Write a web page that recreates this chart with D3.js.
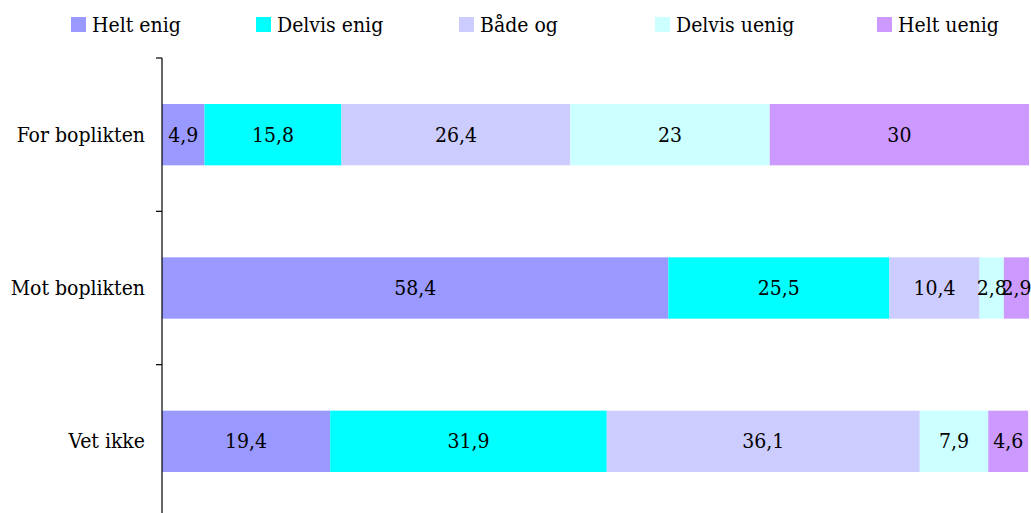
<!DOCTYPE html>
<html>
<head>
<meta charset="utf-8">
<script src="https://cdn.jsdelivr.net/npm/d3@7"></script>
<style>
  html, body { margin: 0; padding: 0; background: #fff; }
</style>
</head>
<body>
<svg id="chart" width="1031" height="513"></svg>
<script>
// Categories (top to bottom) and response series
const categories = ["For boplikten", "Mot boplikten", "Vet ikke"];
const seriesNames = ["Helt enig", "Delvis enig", "Både og", "Delvis uenig", "Helt uenig"];
const seriesColors = ["#9999FF", "#00FFFF", "#CCCCFF", "#CCFFFF", "#CC99FF"];

// Percentages per series, one value per category
const heltEnig    = [4.9, 58.4, 19.4];
const delvisEnig  = [15.8, 25.5, 31.9];
const badeOg      = [26.4, 10.4, 36.1];
const delvisUenig = [23, 2.8, 7.9];
const heltUenig   = [30, 2.9, 4.6];

const seriesValues = [heltEnig, delvisEnig, badeOg, delvisUenig, heltUenig];

const width = 1031, height = 513;
const margin = { left: 162, right: 2, top: 58, bottom: -5 };
const fontSize = 21;
const fontFamily = "'DejaVu Serif Condensed', 'DejaVu Serif', serif";

const svg = d3.select("#chart")
  .attr("font-family", fontFamily);

const x = d3.scaleLinear()
  .domain([0, 100])
  .range([margin.left, width - margin.right]);

const y = d3.scaleBand()
  .domain(categories)
  .range([margin.top, height - margin.bottom])
  .paddingInner(0.6)
  .paddingOuter(0.3);

// Build stacked rows
const rows = categories.map((c, i) => {
  const r = { category: c };
  seriesNames.forEach((s, k) => { r[s] = seriesValues[k][i]; });
  return r;
});
const stacked = d3.stack().keys(seriesNames)(rows);

const fmt = v => String(v).replace(".", ",");
const clampX = v => x(Math.min(v, 100));

const layers = svg.append("g")
  .selectAll("g")
  .data(stacked)
  .join("g")
  .attr("fill", (d, i) => seriesColors[i]);

layers.selectAll("rect")
  .data(d => d)
  .join("rect")
  .attr("x", d => clampX(d[0]))
  .attr("y", d => y(d.data.category))
  .attr("width", d => Math.max(0, clampX(d[1]) - clampX(d[0])))
  .attr("height", y.bandwidth());

// Value labels centred in each segment
stacked.forEach((layer) => {
  svg.append("g")
    .selectAll("text")
    .data(layer)
    .join("text")
    .attr("x", d => (clampX(d[0]) + clampX(d[1])) / 2)
    .attr("y", d => y(d.data.category) + y.bandwidth() / 2 + 7)
    .attr("text-anchor", "middle")
    .attr("font-family", fontFamily)
    .attr("font-size", fontSize)
    .attr("fill", "#000")
    .text(d => fmt(+(d[1] - d[0]).toFixed(1)));
});

// Category axis with band boundary ticks
const bandEdges = categories.map(c => y(c) - y.step() * y.paddingInner() / 2);
bandEdges.push(y(categories[categories.length - 1]) + y.bandwidth() + y.step() * y.paddingInner() / 2);

const axisG = svg.append("g");
axisG.append("line")
  .attr("x1", margin.left).attr("x2", margin.left)
  .attr("y1", bandEdges[0]).attr("y2", height)
  .attr("stroke", "#000").attr("stroke-width", 1.2);
axisG.selectAll("line.tick")
  .data(bandEdges)
  .join("line")
  .attr("class", "tick")
  .attr("x1", margin.left - 6).attr("x2", margin.left)
  .attr("y1", d => d).attr("y2", d => d)
  .attr("stroke", "#000").attr("stroke-width", 1.2);
axisG.selectAll("text")
  .data(categories)
  .join("text")
  .attr("x", margin.left - 17)
  .attr("y", c => y(c) + y.bandwidth() / 2 + 7)
  .attr("text-anchor", "end")
  .attr("font-family", fontFamily)
  .attr("font-size", fontSize)
  .attr("fill", "#000")
  .text(c => c);

// Legend across the top
const legendX = [71, 256, 459, 655, 877];
const legend = svg.append("g")
  .selectAll("g")
  .data(seriesNames)
  .join("g")
  .attr("transform", (d, i) => `translate(${legendX[i]},17)`);
legend.append("rect")
  .attr("width", 15).attr("height", 15)
  .attr("fill", (d, i) => seriesColors[i]);
legend.append("text")
  .attr("x", 21).attr("y", 15)
  .attr("font-family", fontFamily)
  .attr("font-size", fontSize)
  .attr("fill", "#000")
  .text(d => d);
</script>
</body>
</html>
